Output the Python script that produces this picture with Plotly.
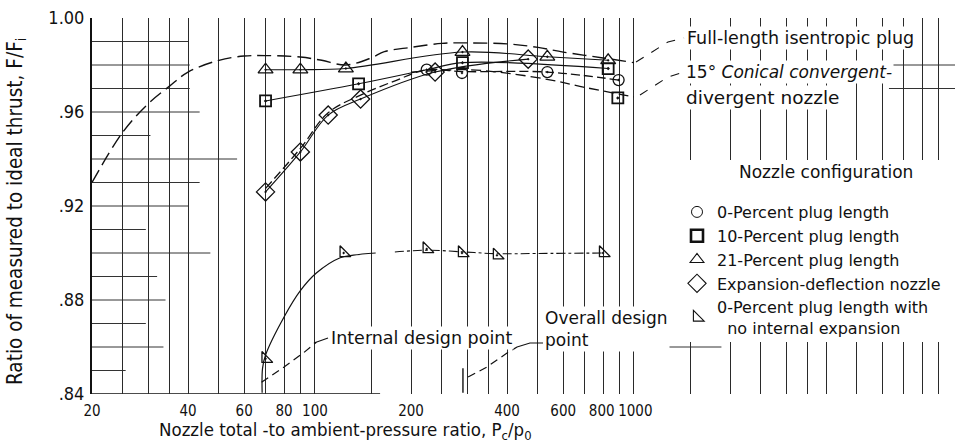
import math
import plotly.graph_objects as go

# ---------------- data ----------------
# measured points (pressure ratio, thrust ratio)
tri21_p = [70, 90, 125, 290, 535, 830]
tri21_f = [0.978, 0.978, 0.9785, 0.9855, 0.9835, 0.982]
sq10_p = [70, 137, 290, 830, 890]
sq10_f = [0.9647, 0.972, 0.981, 0.9785, 0.966]
circ0_p = [224, 289, 535, 895]
circ0_f = [0.978, 0.9766, 0.977, 0.9736]
diam_p = [70, 90, 110, 139, 238, 466]
diam_f = [0.926, 0.943, 0.9587, 0.9655, 0.977, 0.9825]
half_p = [70, 123, 224, 289, 372, 800]
half_f = [0.855, 0.900, 0.9017, 0.900, 0.899, 0.900]

# faired curves
isen_p = [20, 25, 30, 35, 40, 50, 60, 70, 90, 105, 125, 150, 165, 200, 250, 300, 400, 500, 600, 800, 1000]
isen_f = [0.930, 0.9515, 0.9635, 0.971, 0.977, 0.982, 0.9838, 0.984, 0.9834, 0.982, 0.980, 0.983, 0.9857,
          0.9875, 0.9892, 0.9894, 0.989, 0.9875, 0.9855, 0.983, 0.981]
cone_p = [200, 300, 400, 550, 700, 1000]
cone_f = [0.977, 0.978, 0.9765, 0.9736, 0.9705, 0.9664]
tri21_fair_p = [70, 90, 125, 290, 535, 830]
tri21_fair_f = [0.978, 0.978, 0.9785, 0.9855, 0.9835, 0.982]
sq10_fair_p = [70, 137, 224, 290, 830]
sq10_fair_f = [0.9647, 0.972, 0.978, 0.981, 0.9785]
circ0_fair_p = [70, 90, 110, 139, 180, 224, 289, 535, 895]
circ0_fair_f = [0.9275, 0.9445, 0.9597, 0.9672, 0.9735, 0.978, 0.9772, 0.977, 0.9736]
diam_fair_p = [70, 90, 110, 139, 238, 466]
diam_fair_f = [0.926, 0.943, 0.9587, 0.9655, 0.977, 0.9825]
half_fair_p = [68.3, 68.5, 70, 80, 90, 101, 120, 132, 155]
half_fair_f = [0.8405, 0.851, 0.8566, 0.8728, 0.884, 0.8915, 0.898, 0.8991, 0.900]
half_ext_p = [178, 224, 289, 372, 500, 800]
half_ext_f = [0.9004, 0.9012, 0.9005, 0.8997, 0.8998, 0.900]
int_design_p = [68, 80, 92, 101]
int_design_f = [0.845, 0.8515, 0.8575, 0.862]
ovr_design_p = [302, 346, 400, 430]
ovr_design_f = [0.8472, 0.8515, 0.8574, 0.860]
ovr_stub_p = [291, 291]
ovr_stub_f = [0.8405, 0.851]

# axis ticks / grid
x_labels = [20, 40, 60, 80, 100, 200, 400, 600, 800, 1000]
x_ticktext = ["20", "40", "60", "80", "100", "200", "400", "600", "800\u2009", "\u20091000"]
x_minor_grid = [25, 30, 35, 50, 70, 90, 150, 250, 300, 350, 500, 700, 900,
                1500, 2000, 2500, 3000, 3500, 4000, 5000, 6000, 7000, 8000, 9000]
y_ticks = [0.84, 0.88, 0.92, 0.96, 1.00]
y_ticktext = [".84", ".88", ".92", ".96", "1.00"]
h_grid_y = [0.99, 0.98, 0.97, 0.96, 0.95, 0.94, 0.93, 0.92, 0.91, 0.90, 0.89, 0.88, 0.87, 0.86, 0.85]
h_grid_start = [20] * 15
h_grid_end = [40, 40.5, 40.5, 43.5, 30.5, 57, 43.5, 40, 29.5, 47, 32, 34, 29.5, 33.5, 25.5]
h_grid_right_y = [0.98, 0.97, 0.86]
h_grid_right_start = [6300, 6300, 1270]
h_grid_right_end = [10200, 10200, 1880]

# ---------------- layout helpers ----------------
W, H = 955, 445
ML, MR, MT, MB = 92, 0, 18, 51
PW, PH = W - ML - MR, H - MT - MB


def px(xp):
    return (xp - ML) / PW


def py(yp):
    return (H - MB - yp) / PH


COND = "Liberation Sans Narrow, DejaVu Sans Condensed, Liberation Sans, Arial, sans-serif"
SANS = "DejaVu Sans, Noto Sans, sans-serif"
INK = "#111111"

fig = go.Figure()


def line(xs, ys, dash="solid", width=1.2, shape="spline"):
    fig.add_trace(go.Scatter(x=xs, y=ys, mode="lines", showlegend=False, hoverinfo="skip",
                             line=dict(color=INK, width=width, dash=dash, shape=shape)))


line(isen_p, isen_f, dash="14px,6px", width=1.4)
line(cone_p, cone_f, dash="10px,5px", width=1.3)
line(tri21_fair_p, tri21_fair_f, width=1.1)
line(sq10_fair_p, sq10_fair_f, width=1.1)
line(circ0_fair_p, circ0_fair_f, dash="9px,4px", width=1.3)
line(diam_fair_p, diam_fair_f, width=1.1)
line(half_fair_p, half_fair_f, width=1.2)
line(half_ext_p, half_ext_f, dash="dashdot", width=1.1)
line(int_design_p, int_design_f, dash="8px,5px", width=1.2, shape="linear")
line(ovr_design_p, ovr_design_f, dash="8px,5px", width=1.2, shape="linear")
line(ovr_stub_p, ovr_stub_f, width=1.4, shape="linear")


def pts(xs, ys, symbol, size, lw=1.3):
    fig.add_trace(go.Scatter(x=xs, y=ys, mode="markers", showlegend=False, hoverinfo="skip",
                             marker=dict(symbol=symbol, size=size, color=INK,
                                         line=dict(color=INK, width=lw))))


pts(tri21_p, tri21_f, "triangle-up-open-dot", 13)
pts(sq10_p, sq10_f, "square-open-dot", 11, 1.8)
pts(circ0_p, circ0_f, "circle-open-dot", 11)
pts(diam_p, diam_f, "diamond-open-dot", 14)
pts(half_p, half_f, "triangle-sw-open-dot", 12)

# legend entries
legend_items = [
    ("0-Percent plug length", "circle-open", 11, 1.0),
    ("10-Percent plug length", "square-open", 12, 2.6),
    ("21-Percent plug length", "triangle-up-open", 12, 1.1),
    ("Expansion-deflection nozzle", "diamond-open", 14, 1.1),
    ("0-Percent plug length with<br>\u00a0\u00a0no internal expansion", "triangle-sw-open", 12, 1.1),
]
for name, sym, sz, lw in legend_items:
    fig.add_trace(go.Scatter(x=[None], y=[None], mode="markers", name=name,
                             marker=dict(symbol=sym, size=sz, color=INK, line=dict(color=INK, width=lw))))

shapes = []
for yv, xs, xe in zip(h_grid_y, h_grid_start, h_grid_end):
    shapes.append(dict(type="line", xref="x", yref="y", x0=xs, x1=xe, y0=yv, y1=yv, layer="below",
                       line=dict(color="#333333", width=1)))
for yv, xs, xe in zip(h_grid_right_y, h_grid_right_start, h_grid_right_end):
    shapes.append(dict(type="line", xref="x", yref="y", x0=xs, x1=xe, y0=yv, y1=yv, layer="below",
                       line=dict(color="#333333", width=1)))
# bottom axis segment
shapes.append(dict(type="line", xref="x", yref="y", x0=20, x1=160, y0=0.84, y1=0.84, layer="below",
                   line=dict(color=INK, width=1.6)))
# white block behind the legend area
shapes.append(dict(type="rect", xref="paper", yref="paper", x0=px(662), x1=px(955), y0=py(342), y1=py(160),
                   fillcolor="white", line=dict(width=0), layer="above"))


def path(points):
    s = ""
    for i, (a, b) in enumerate(points):
        s += ("M" if i == 0 else " L") + f" {px(a):.4f},{py(b):.4f}"
    return s


leaders = [
    ([(636, 62), (668, 42), (684, 38)], "dash"),
    ([(640, 95), (668, 77), (684, 72)], "dash"),
    ([(314, 343), (328, 338)], "solid"),
    ([(517, 347), (530, 343), (543, 343)], "solid"),
]
for pts_, d in leaders:
    shapes.append(dict(type="path", xref="paper", yref="paper", path=path(pts_), layer="above",
                       line=dict(color=INK, width=1.1, dash=d)))

ann = []


def text(t, xp, yp, size=16, family=SANS, xanchor="left", yanchor="middle", angle=0, bg="white", align="left"):
    a = dict(text=t, x=px(xp), y=py(yp), xref="paper", yref="paper", showarrow=False,
             xanchor=xanchor, yanchor=yanchor, textangle=angle, align=align,
             font=dict(family=family, size=size, color=INK), borderpad=1)
    if bg:
        a["bgcolor"] = bg
    ann.append(a)


text("Full-length isentropic plug", 685, 38, size=17.5)
text("15\u00b0 <i>Conical convergent-</i>", 684, 72, size=17)
text("divergent nozzle", 684, 97, size=18.5)
text("Nozzle configuration", 826, 172, size=17, xanchor="center")
text("Internal design point", 329, 338, size=17.5)
text("Overall design<br>point", 543, 306, size=17, yanchor="top")
text("Nozzle total -to ambient-pressure ratio, P<sub>c</sub>/p<sub>0</sub>", 345, 431, size=18.5,
     family=COND, xanchor="center", bg=None)
text("Ratio of measured to ideal thrust, F/F<sub>i</sub>", 16, 212, size=20.5, family=COND,
     xanchor="center", angle=-90, bg=None)

fig.update_layout(
    width=W, height=H, autosize=False,
    margin=dict(l=ML, r=MR, t=MT, b=MB, pad=0),
    plot_bgcolor="white", paper_bgcolor="white",
    shapes=shapes, annotations=ann,
    showlegend=True,
    legend=dict(x=px(677), y=py(195), xanchor="left", yanchor="top", bgcolor="rgba(0,0,0,0)",
                font=dict(family=SANS, size=16, color=INK), itemwidth=30, tracegroupgap=0),
    xaxis=dict(type="log", range=[math.log10(20), math.log10(20) + PW / 319.0],
               tickmode="array", tickvals=x_labels, ticktext=x_ticktext,
               tickangle=0,
               showgrid=True, gridcolor="#2a2a2a", gridwidth=1, showline=False, zeroline=False,
               ticks="", ticklabelstandoff=6,
               minor=dict(tickmode="array", tickvals=x_minor_grid, showgrid=True,
                          gridcolor="#2a2a2a", gridwidth=1, ticks=""),
               tickfont=dict(family=COND, size=15, color=INK)),
    yaxis=dict(range=[0.84, 1.00], tickmode="array", tickvals=y_ticks, ticktext=y_ticktext,
               showgrid=False, zeroline=False, showline=True, linecolor=INK, linewidth=2,
               ticks="", ticklabelstandoff=2,
               tickfont=dict(family=COND, size=18, color=INK)),
)

fig.write_html("out.html", post_script="document.body.style.margin='0';",
               config={"displayModeBar": False})
